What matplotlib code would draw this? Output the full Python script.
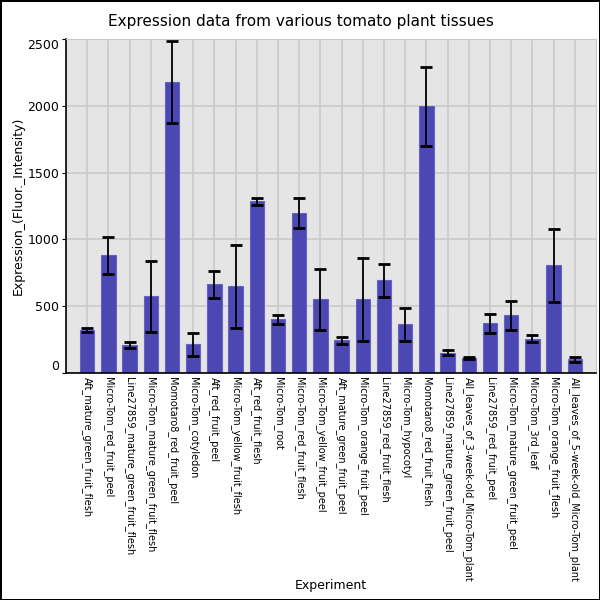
from matplotlib import pyplot as plt
import numpy as np

# Tissue names, in plotting order
tissues = [
    'Aft_mature_green_fruit_flesh',
    'Micro-Tom_red_fruit_peel',
    'Line27859_mature_green_fruit_flesh',
    'Micro-Tom_mature_green_fruit_flesh',
    'Momotaro8_red_fruit_peel',
    'Micro-Tom_cotyledon',
    'Aft_red_fruit_peel',
    'Micro-Tom_yellow_fruit_flesh',
    'Aft_red_fruit_flesh',
    'Micro-Tom_root',
    'Micro-Tom_red_fruit_flesh',
    'Micro-Tom_yellow_fruit_peel',
    'Aft_mature_green_fruit_peel',
    'Micro-Tom_orange_fruit_peel',
    'Line27859_red_fruit_flesh',
    'Micro-Tom_hypocotyl',
    'Momotaro8_red_fruit_flesh',
    'Line27859_mature_green_fruit_peel',
    'All_leaves_of_3-week-old_Micro-Tom_plant',
    'Line27859_red_fruit_peel',
    'Micro-Tom_mature_green_fruit_peel',
    'Micro-Tom_3rd_leaf',
    'Micro-Tom_orange_fruit_flesh',
    'All_leaves_of_5-week-old_Micro-Tom_plant',
]

# Mean expression and error
expr = [320, 880, 210, 575, 2175, 214, 663, 648, 1285, 401, 1197, 551,
        244, 551, 693, 364, 1997, 152, 112, 372, 431, 257, 806, 102]
err = [15, 140, 25, 265, 307, 88, 103, 310, 24, 35, 112, 230,
       27, 312, 122, 123, 297, 17, 10, 72, 107, 24, 275, 17]

yticks = [0, 500, 1000, 1500, 2000, 2500]

fig = plt.figure(figsize=(6, 6), dpi=100)
fig.patch.set_edgecolor('black')
fig.patch.set_linewidth(2)
ax = fig.add_axes([0.11, 0.3783, 0.8833, 0.5567])

x = np.arange(len(tissues))
ax.set_facecolor('#e5e5e5')
ax.grid(True, color='#c8c8c8', linewidth=1.1)
ax.set_axisbelow(True)
ax.bar(x, expr, width=0.68, color='#4b47b3', edgecolor='#6763c4', linewidth=0.8)
ax.errorbar(x, expr, yerr=err, fmt='none', ecolor='black', elinewidth=1.3,
            capsize=4.5, capthick=2)

ax.set_xlim(-1, len(tissues))
ax.set_ylim(0, 2500)
ax.set_xticks(x)
ax.set_xticklabels(tissues, rotation=-90, fontsize=7)
ax.set_yticks(yticks)
ax.set_yticklabels([str(v) for v in yticks], fontsize=9)
ylabs = ax.get_yticklabels()
ylabs[0].set_va('bottom')
ylabs[-1].set_va('top')
ax.tick_params(axis='x', length=0, pad=3)
ax.tick_params(axis='y', length=3, pad=2)

for s in ['top', 'right']:
    ax.spines[s].set_color('#c8c8c8')
ax.spines['left'].set_linewidth(1.2)
ax.spines['bottom'].set_linewidth(1.2)

fig.suptitle('Expression data from various tomato plant tissues', fontsize=11,
             x=0.502, y=0.964, va='center')
ax.set_ylabel('Expression_(Fluor._Intensity)', fontsize=9)
ax.yaxis.set_label_coords(-0.09, 0.5)
ax.yaxis.label.set_va('center')
ax.set_xlabel('Experiment', fontsize=9)
ax.xaxis.set_label_coords(0.5, -0.635)
ax.xaxis.label.set_va('center')

fig.savefig('out.png', edgecolor=fig.get_edgecolor())
